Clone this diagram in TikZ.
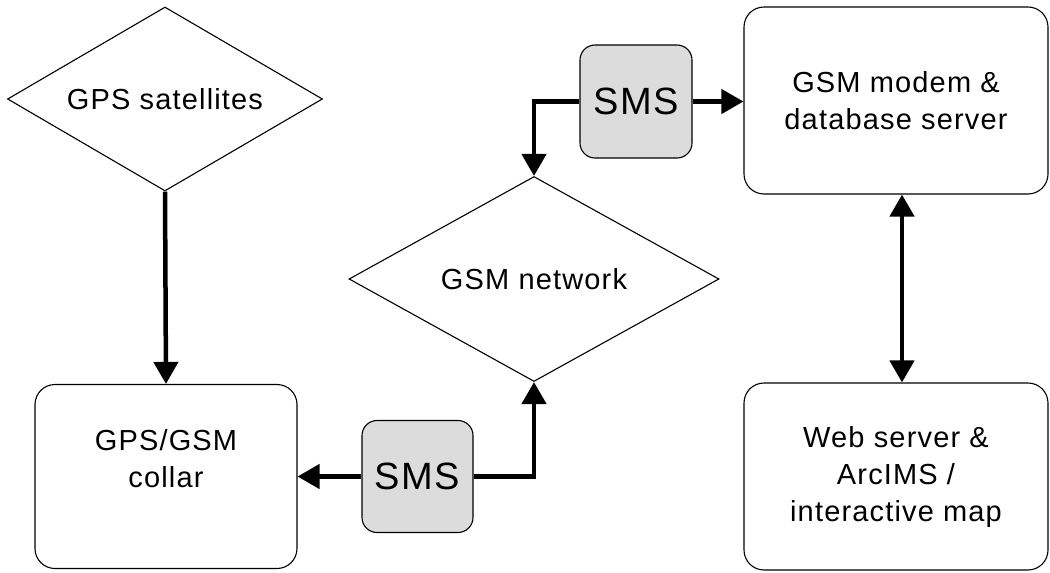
\documentclass[tikz,border=0pt]{standalone}
\usepackage{fontspec}
\setmainfont{Liberation Sans}[LetterSpace=4]
\usetikzlibrary{shapes.geometric,arrows.meta,calc}
\begin{document}
\begin{tikzpicture}[x=1pt,y=-1pt,
  thinline/.style={draw=black,line width=1.1pt},
  dia/.style={thinline,shape=diamond,inner sep=0pt,font=\fontsize{29}{36}\selectfont},
  rbox/.style={thinline,rounded corners=20pt,inner sep=0pt,align=center,font=\fontsize{29}{37}\selectfont},
  smsbox/.style={thinline,fill=smsgray,rounded corners=15pt,inner sep=0pt,font=\fontsize{38}{40}\selectfont},
  conn/.style={line width=4.5pt,-{Triangle[length=22pt,width=24pt]}},
  conn2/.style={line width=4.5pt,{Triangle[length=22pt,width=24pt]}-{Triangle[length=22pt,width=24pt]}}
]
\definecolor{smsgray}{RGB}{220,220,220}
\useasboundingbox (0,0) rectangle (1050,573);
\node[dia,aspect=1.71,minimum width=315pt,minimum height=184pt] (gps) at (165,99) {GPS satellites};
\node[dia,aspect=1.8,minimum width=370pt,minimum height=205pt] (gsm) at (534,279) {GSM network};
\node[rbox,minimum width=304pt,minimum height=187pt] (modem) at (896,100.5) {GSM modem \&\\database server};
\node[rbox,minimum width=304pt,minimum height=187pt] (web) at (896,476.5) {Web server \&\\ArcIMS /\\interactive map};
\node[rbox,minimum width=262pt,minimum height=184pt] (collar) at (166,476.5) {GPS/GSM\\collar\\~};
\node[smsbox,minimum width=112pt,minimum height=113pt] (smstop) at (636,101.5) {SMS};
\node[smsbox,minimum width=111pt,minimum height=112pt] (smsbot) at (417.5,476.5) {SMS};
\draw[conn] (gps.south) -- (collar.north);
\draw[conn] (smstop.west) -| (gsm.north);
\draw[conn] (smstop.east) -- (smstop.east -| modem.west);
\draw[conn2] ([xshift=6pt]modem.south) -- ([xshift=6pt]web.north);
\draw[conn] (smsbot.west) -- (smsbot.west -| collar.east);
\draw[conn] (smsbot.east) -| (gsm.south);
\end{tikzpicture}
\end{document}
